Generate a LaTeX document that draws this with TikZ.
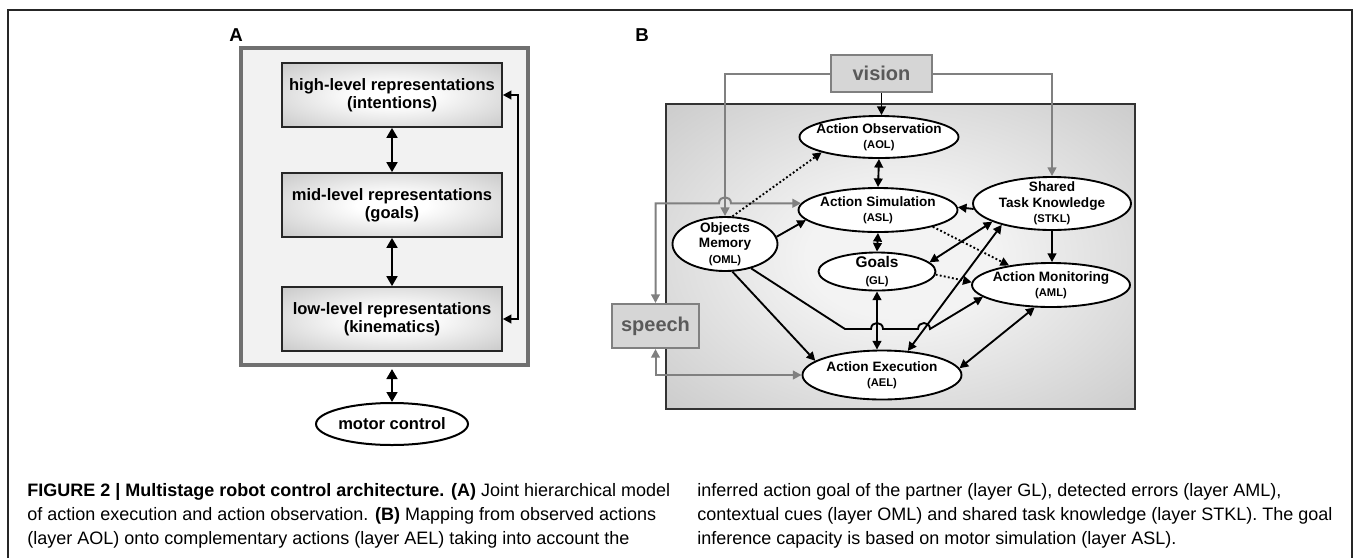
\documentclass[tikz,border=0pt]{standalone}
\usepackage{fontspec}
\setmainfont{Liberation Sans}
\usetikzlibrary{arrows.meta,calc,shapes.geometric}
\definecolor{frameA}{HTML}{707070}
\definecolor{panelA}{HTML}{F2F2F2}
\definecolor{glc}{HTML}{808080}
\definecolor{sfill}{HTML}{D6D6D6}
\definecolor{stext}{HTML}{5A5A5A}
\definecolor{edgeA}{HTML}{ADADAD}
\definecolor{cornerA}{HTML}{9C9C9C}
\definecolor{midB}{HTML}{F3F3F3}
\definecolor{edgeB}{HTML}{B6B6B6}
\definecolor{cornerB}{HTML}{A2A2A2}
\pgfdeclareradialshading{shA}{\pgfpoint{0bp}{0bp}}{color(0bp)=(white); color(8bp)=(white); color(50bp)=(edgeA); color(72bp)=(cornerA)}
\pgfdeclareradialshading{shB}{\pgfpoint{0bp}{0bp}}{color(0bp)=(midB); color(10bp)=(midB); color(50bp)=(edgeB); color(72bp)=(cornerB)}
\newcommand{\acrn}[1]{{\fontsize{8.4}{9}\selectfont(#1)}}
\tikzset{
  TipA/.tip={Triangle[length=7.5pt,width=8pt]},
  TipB/.tip={Triangle[length=6.5pt,width=6.5pt]},
  boxA/.style={rectangle, draw=black!85, line width=1.2pt, shading=shA, shade,
    minimum width=165pt, minimum height=48pt, inner sep=0pt, align=center,
    font=\fontsize{12.4}{13.5}\selectfont\bfseries},
  arrA/.style={line width=2.2pt, draw=black, arrows={TipA-TipA}},
  arrAthin/.style={line width=1.6pt, draw=black, arrows={TipB-TipB}},
  ell/.style={ellipse, draw=black, line width=1.4pt, fill=white, inner xsep=-8pt, inner ysep=-5pt, align=center,
    font=\fontsize{10.2}{11.6}\selectfont\bfseries},
  sbox/.style={rectangle, draw=glc, line width=1.5pt, fill=sfill, text=stext, inner sep=0pt,
    font=\fontsize{15}{15}\selectfont\bfseries},
  blk/.style={line width=1.4pt, draw=black},
  uni/.style={arrows={-TipB}},
  bi/.style={arrows={TipB-TipB}},
  dotl/.style={line width=1.4pt, draw=black, dash pattern=on 1.4pt off 1.7pt, arrows={-TipB}},
  gl/.style={line width=1.5pt, draw=glc},
  lab/.style={font=\fontsize{14}{14}\selectfont\bfseries, inner sep=0pt},
  capt/.style={anchor=base west, inner sep=0pt, font=\fontsize{13.5}{18}\selectfont}
}
\begin{document}
\begin{tikzpicture}[x=0.75pt,y=-0.75pt]
\useasboundingbox (0,0) rectangle (1354,558);
% outer figure frame
\draw[line width=0.9pt, draw=black!85] (8,558) -- (8,10) -- (1352,10) -- (1352,558);

% ---------------- Panel A ----------------
\node[lab] (labA) at (236,35) {A};
\node[rectangle, draw=frameA, line width=3pt, fill=panelA, minimum width=215.25pt, minimum height=237.75pt, inner sep=0pt] (outerA) at (384.5,206.5) {};
\node[boxA] (high) at (392,95) {high-level representations\\(intentions)};
\node[boxA] (mid) at (392,205) {mid-level representations\\(goals)};
\node[boxA] (low) at (392,319) {low-level representations\\(kinematics)};
\node[ellipse, draw=black, line width=1.5pt, fill=white, minimum width=105.75pt, minimum height=31.5pt, inner sep=0pt,
  font=\fontsize{12.4}{13.5}\selectfont\bfseries] (motor) at (392,424) {motor control};
\draw[arrA] (high) -- (mid);
\draw[arrA] (mid) -- (low);
\draw[arrA, shorten <=1.5pt] (motor.north |- outerA.south) -- (motor.north);
\draw[arrAthin] (high.east) -- ++(15,0) |- (low.east);

% ---------------- Panel B ----------------
\node[lab] (labB) at (642,35) {B};
\node[rectangle, draw=black!80, line width=1.5pt, shading=shB, shade,
  minimum width=351.75pt, minimum height=228.75pt, inner sep=0pt] (boxB) at (900.5,256.5) {};

\node[sbox, minimum width=75.75pt, minimum height=27.75pt] (vision) at (881.5,73.5) {vision};
\node[sbox, minimum width=65.25pt, minimum height=33pt] (speech) at (655.5,326) {speech};

\node[ell, minimum width=119.25pt, minimum height=31.5pt] (AOL) at (879,137) {Action Observation\\\acrn{AOL}};
\node[ell, minimum width=119.25pt, minimum height=33pt] (ASL) at (878,210) {Action Simulation\\\acrn{ASL}};
\node[ell, minimum width=87.75pt, minimum height=28.5pt, font=\fontsize{11.6}{12.6}\selectfont\bfseries] (Goals) at (877,271.5) {Goals\\\acrn{GL}};
\node[ell, minimum width=78.75pt, minimum height=40.5pt] (OML) at (725,244) {Objects\\Memory\\\acrn{OML}};
\node[ell, minimum width=118.5pt, minimum height=39.75pt] (STKL) at (1052,203.5) {Shared\\Task Knowledge\\\acrn{STKL}};
\node[ell, minimum width=118.5pt, minimum height=33pt] (AML) at (1051,285) {Action Monitoring\\\acrn{AML}};
\node[ell, minimum width=119.25pt, minimum height=36.75pt] (AEL) at (882,375) {Action Execution\\\acrn{AEL}};

% gray sensory connectors
\draw[gl, uni] (vision.west) -| (OML.north);
\draw[gl, uni] (vision.east) -| (STKL.north);
\coordinate (j1) at (OML.north |- ASL.175);
\draw[gl, bi] (speech.north) |- ($(j1)+(-6,0)$) .. controls +(0,-8) and +(0,-8) .. ($(j1)+(6,0)$) -- (ASL.175);
\draw[gl, bi] (speech.south) |- (AEL.west);

% black connectors
\draw[blk, uni] (vision.south) -- (vision.south |- AOL.north);
\draw[blk, bi] (AOL.south) -- (ASL.north);
\draw[blk, bi] (ASL.south) -- (Goals.north);
\draw[blk, bi] (Goals.south) -- (Goals.south |- AEL.north);
\draw[dotl] (OML.75) -- (AOL.195);
\draw[blk, uni] (OML.8) -- (ASL.188);
\draw[blk, uni] (STKL.184) -- (ASL.2);
\draw[blk, uni] (STKL.south) -- (STKL.south |- AML.north);
\draw[dotl] (ASL.-17) -- (AML.155);
\draw[dotl] (Goals.-3) -- (AML.178);
\draw[blk, bi] (Goals.10) -- (STKL.197);
\draw[blk, bi] (AEL.43) -- (STKL.203);
\draw[blk, uni] (OML.-75) -- (AEL.168);
\coordinate (k1) at (845,329);
\coordinate (j2) at (Goals.south |- k1);
\coordinate (j3) at (924,329);
\draw[blk, uni] (OML.-43) -- (k1) -- ($(j2)+(-6,0)$) .. controls +(0,-8) and +(0,-8) .. ($(j2)+(6,0)$)
  -- ($(j3)+(-6,0)$) .. controls +(0,-8) and +(0,-8) .. ($(j3)+(6,0)$) -- (AML.190);
\draw[blk, bi] (AEL.5) -- (AML.234);

% ---------------- Caption ----------------
\node[capt] (c1) at (27,496) {\textbf{FIGURE 2 | Multistage robot control architecture. (A)} Joint hierarchical model};
\node[capt] (c2) at (27,520) {of action execution and action observation. \textbf{(B)} Mapping from observed actions};
\node[capt] (c3) at (27,544) {(layer AOL) onto complementary actions (layer AEL) taking into account the};
\node[capt] (c4) at (697,496) {inferred action goal of the partner (layer GL), detected errors (layer AML),};
\node[capt] (c5) at (697,520) {contextual cues (layer OML) and shared task knowledge (layer STKL). The goal};
\node[capt] (c6) at (697,544) {inference capacity is based on motor simulation (layer ASL).};
\end{tikzpicture}
\end{document}
